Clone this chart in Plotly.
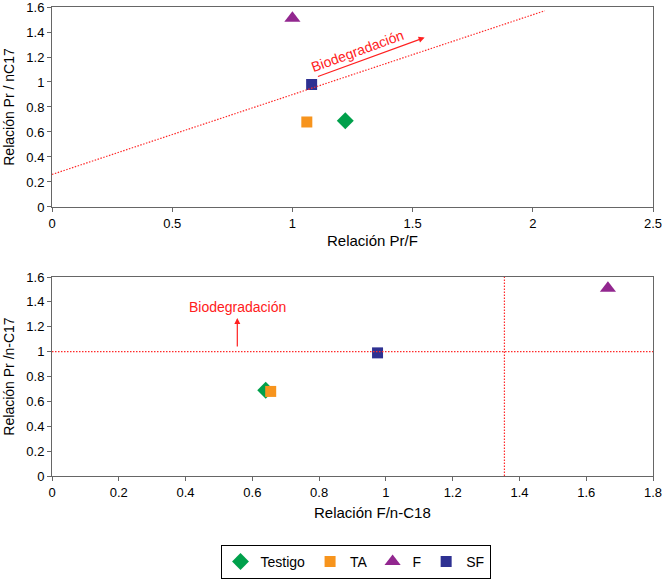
import plotly.graph_objects as go
from plotly.subplots import make_subplots

series = ["Testigo", "TA", "F", "SF"]
colors = ["#00A04B", "#F7941D", "#92278F", "#2E3192"]
symbols = ["diamond", "square", "triangle-up", "square"]
sizes = [13, 11, 14, 11]

# Top chart: Pr/F vs Pr/nC17
pr_f = [1.22, 1.06, 1.00, 1.08]
pr_nc17_top = [0.69, 0.68, 1.51, 0.98]

# Bottom chart: F/n-C18 vs Pr/n-C17
f_nc18 = [0.64, 0.655, 1.665, 0.975]
pr_nc17_bot = [0.69, 0.68, 1.51, 0.99]

# Trend line (top)
trend_x = [0.0, 2.05]
trend_y = [0.26, 1.57]

fig = make_subplots(rows=2, cols=1, vertical_spacing=0.15)

for i, s in enumerate(series):
    fig.add_trace(go.Scatter(x=[pr_f[i]], y=[pr_nc17_top[i]], mode="markers", name=s,
                             marker=dict(color=colors[i], symbol=symbols[i], size=sizes[i]),
                             legendgroup=s, showlegend=True), row=1, col=1)
for i, s in enumerate(series):
    fig.add_trace(go.Scatter(x=[f_nc18[i]], y=[pr_nc17_bot[i]], mode="markers", name=s,
                             marker=dict(color=colors[i], symbol=symbols[i], size=sizes[i]),
                             legendgroup=s, showlegend=False), row=2, col=1)

dotline = dict(color="#FF2A2A", width=1.2, dash="1.5px,1.5px")
fig.add_trace(go.Scatter(x=trend_x, y=trend_y, mode="lines", showlegend=False,
                         line=dotline), row=1, col=1)
fig.add_trace(go.Scatter(x=[0, 1.8], y=[1, 1], mode="lines", showlegend=False,
                         line=dotline), row=2, col=1)
fig.add_trace(go.Scatter(x=[1.355, 1.355], y=[0, 1.6], mode="lines", showlegend=False,
                         line=dotline), row=2, col=1)

red = "#FF2020"
fig.add_annotation(x=1.55, y=1.355, ax=1.1, ay=1.04, xref="x", yref="y", axref="x", ayref="y",
                   showarrow=True, arrowhead=2, arrowsize=1, arrowwidth=1.2, arrowcolor=red, text="")
fig.add_annotation(x=1.27, y=1.245, xref="x", yref="y", text="Biodegradación", showarrow=False,
                   textangle=-20, font=dict(color=red, size=14, family="Liberation Sans"))
fig.add_annotation(x=0.555, y=1.27, ax=0.555, ay=1.03, xref="x2", yref="y2", axref="x2", ayref="y2",
                   showarrow=True, arrowhead=2, arrowsize=1, arrowwidth=1.2, arrowcolor=red, text="")
fig.add_annotation(x=0.555, y=1.36, xref="x2", yref="y2", text="Biodegradación", showarrow=False,
                   font=dict(color=red, size=14, family="Liberation Sans"))

# x-axis titles (placed slightly right of centre, as in the reference)
fig.add_annotation(x=0.533, y=0.503, xref="paper", yref="paper", text="Relación Pr/F",
                   xanchor="center", yanchor="middle",
                   showarrow=False, font=dict(size=15, color="black"))
fig.add_annotation(x=0.533, y=-0.0768, xref="paper", yref="paper", text="Relación F/n-C18",
                   xanchor="center", yanchor="middle",
                   showarrow=False, font=dict(size=15, color="black"))

axis_common = dict(showgrid=False, zeroline=False, showline=True, linecolor="#666666", linewidth=1,
                   mirror=True, ticks="outside", ticklen=4, tickcolor="#666666", automargin=False,
                   ticklabeloverflow="allow",
                   tickfont=dict(size=13, color="black"), title_font=dict(size=14, color="black"))

fig.update_xaxes(range=[0, 2.5], dtick=0.5, domain=[0, 1], **axis_common, row=1, col=1)
fig.update_yaxes(range=[0, 1.6], dtick=0.2, title_text="Relación Pr / nC17", title_standoff=8,
                 domain=[0.5736, 1], **axis_common, row=1, col=1)
fig.update_xaxes(range=[0, 1.8], dtick=0.2, domain=[0, 1], **axis_common, row=2, col=1)
fig.update_yaxes(range=[0, 1.6], dtick=0.2, title_text="Relación Pr /n-C17", title_standoff=8,
                 domain=[0, 0.4243], **axis_common, row=2, col=1)

fig.update_layout(
    width=662, height=581,
    margin=dict(l=52, r=9, t=7, b=105, autoexpand=False),
    paper_bgcolor="white", plot_bgcolor="white",
    font=dict(family="Liberation Sans", size=13, color="black"),
    legend=dict(orientation="h", x=0.505, xanchor="center", y=-0.147, yanchor="top",
                bordercolor="black", borderwidth=1, font=dict(size=14),
                itemwidth=30, tracegroupgap=0),
)

fig.write_html("out.html", config={"displayModeBar": False},
               post_script="document.body.style.margin='0px';")
